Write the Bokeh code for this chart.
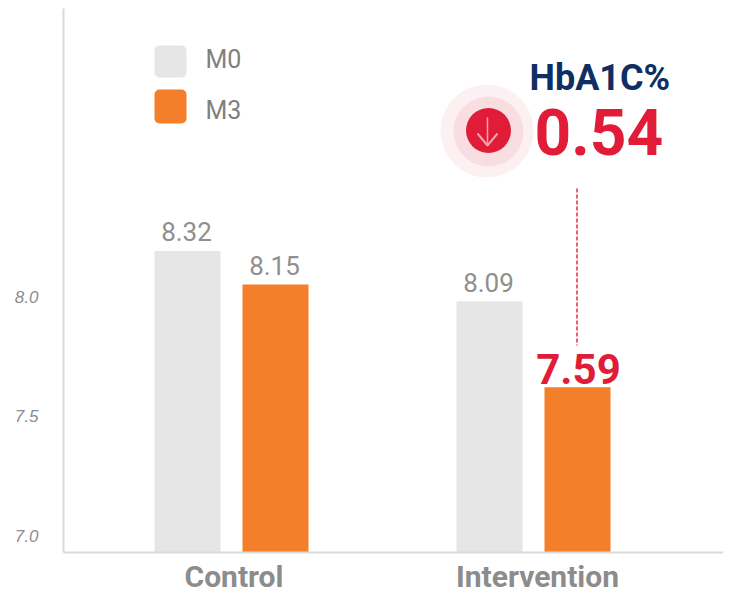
from bokeh.plotting import figure
from bokeh.embed import file_html
from bokeh.resources import INLINE
from bokeh.core.properties import value
from bokeh.models import Range1d, FixedTicker

# ---- data
categories = ["Control", "Intervention"]
series_names = ["M0", "M3"]
# bar tops as read against the drawn y axis
m0_tops = [8.19, 7.98]
m3_tops = [8.05, 7.62]
# the printed labels
m0_labels = ["8.32", "8.09"]
m3_labels = ["8.15", "7.59"]
y_ticks = [7.0, 7.5, 8.0]
y_tick_labels = ["7.0", "7.5", "8.0"]
headline = "HbA1C%"
delta = "0.54"

GREY = "#e6e6e6"
ORANGE = "#f47f2b"
RED = "#e01c38"
NAVY = "#0f2f62"
TXT = "#8f8f8f"
AXIS = "#d9d9d9"

W, H = 738, 595
PX_PER_GROUP = 302.0
PX_PER_Y = 239.0

def X(px):
    return (px - 231.0) / PX_PER_GROUP

def Y(py):
    return 8.0 - (py - 296.0) / PX_PER_Y

# the frame runs to the page bottom; the x axis sits at a fixed location inside it
p = figure(width=W, height=H, output_backend="svg", toolbar_location=None,
           x_range=Range1d(X(63), X(723)), y_range=Range1d(Y(595), Y(8)),
           min_border_left=63, min_border_right=15, min_border_top=8, min_border_bottom=0,
           background_fill_color="white", border_fill_color="white")
p.outline_line_color = None
p.grid.visible = False

# axes
p.yaxis.ticker = FixedTicker(ticks=y_ticks)
p.yaxis.bounds = (Y(552), Y(8))
p.yaxis.major_label_overrides = {t: s for t, s in zip(y_ticks, y_tick_labels)}
p.yaxis.major_tick_line_color = None
p.yaxis.minor_tick_line_color = None
p.yaxis.major_tick_out = 0
p.yaxis.axis_line_color = AXIS
p.yaxis.axis_line_width = 2
p.yaxis.major_label_standoff = 25
p.yaxis.major_label_text_font = "Liberation Sans"
p.yaxis.major_label_text_font_style = "italic"
p.yaxis.major_label_text_font_size = "17px"
p.yaxis.major_label_text_color = "#8c8c8c"

xt = [X(233.5), X(537)]
p.xaxis.fixed_location = Y(552)
p.xaxis.ticker = FixedTicker(ticks=xt)
p.xaxis.major_label_overrides = {t: s for t, s in zip(xt, categories)}
p.xaxis.major_tick_line_color = None
p.xaxis.minor_tick_line_color = None
p.xaxis.major_tick_out = 0
p.xaxis.axis_line_color = AXIS
p.xaxis.axis_line_width = 2
p.xaxis.major_label_standoff = 6
p.xaxis.major_label_text_font = "Roboto"
p.xaxis.major_label_text_font_style = "bold"
p.xaxis.major_label_text_font_size = "30px"
p.xaxis.major_label_text_color = "#8c8c8c"

# bars
BAR_W = 66.0 / PX_PER_GROUP
OFF = 44.0 / PX_PER_GROUP
base = Y(552)
groups = list(range(len(categories)))
p.vbar(x=[g - OFF for g in groups], top=m0_tops, bottom=base, width=BAR_W, fill_color=GREY, line_color=None)
p.vbar(x=[g + OFF for g in groups], top=m3_tops, bottom=base, width=BAR_W, fill_color=ORANGE, line_color=None)

# bar labels
p.text(x=[g - OFF - 1.0 / PX_PER_GROUP for g in groups], y=[Y(231), Y(282)], text=m0_labels,
       text_font=value("Roboto"), text_font_size="26px", text_color=TXT,
       text_align="center", text_baseline="alphabetic")
p.text(x=[g + OFF - 1.0 / PX_PER_GROUP for g in groups[:1]], y=[Y(265)], text=m3_labels[:1],
       text_font=value("Roboto"), text_font_size="26px", text_color=TXT,
       text_align="center", text_baseline="alphabetic")
p.text(x=[g + OFF + 1.0 / PX_PER_GROUP for g in groups[1:]], y=[Y(368)], text=m3_labels[1:],
       text_font=value("Roboto"), text_font_style="bold", text_font_size="42px", text_color=RED,
       text_align="center", text_baseline="alphabetic")

# legend
p.quad(left=[X(154)], right=[X(186)], top=[Y(45)], bottom=[Y(77)], fill_color=GREY, line_color=None, border_radius=5)
p.quad(left=[X(154)], right=[X(186)], top=[Y(89)], bottom=[Y(123)], fill_color=ORANGE, line_color=None, border_radius=5)
p.text(x=[X(205), X(205)], y=[Y(59), Y(110)], text=series_names,
       text_font=value("Roboto"), text_font_size="25px", text_color="#808080",
       text_align="left", text_baseline="alphabetic")

# callout: dashed connector
p.line(x=[X(576.5), X(576.5)], y=[Y(188), Y(345)], line_color=RED, line_width=1.4, line_dash="4 2")

# callout: rings, in screen-sized circles
p.scatter(x=[X(486.5)], y=[Y(130.5)], size=93, marker="circle", fill_color="#fdf0f2", line_color=None)
p.scatter(x=[X(488)], y=[Y(131)], size=70, marker="circle", fill_color="#f8dde1", line_color=None)
p.scatter(x=[X(488)], y=[Y(130)], size=45, marker="circle", fill_color=RED, line_color=None)
p.line(x=[X(487), X(487)], y=[Y(117), Y(145)], line_color="#f3a3b0", line_width=1.5)
p.line(x=[X(477), X(487), X(497)], y=[Y(133), Y(145), Y(133)], line_color="#f3a3b0", line_width=2)

p.text(x=[X(529)], y=[Y(77)], text=[headline], text_font=value("Roboto"), text_font_style="bold",
       text_font_size="36px", text_color=NAVY, text_align="left", text_baseline="alphabetic")
p.text(x=[X(534)], y=[Y(131)], text=[delta], text_font=value("Roboto"), text_font_style="bold",
       text_font_size="64px", text_color=RED, text_align="left", text_baseline="alphabetic")

open("out.html", "w").write(file_html(p, INLINE))
